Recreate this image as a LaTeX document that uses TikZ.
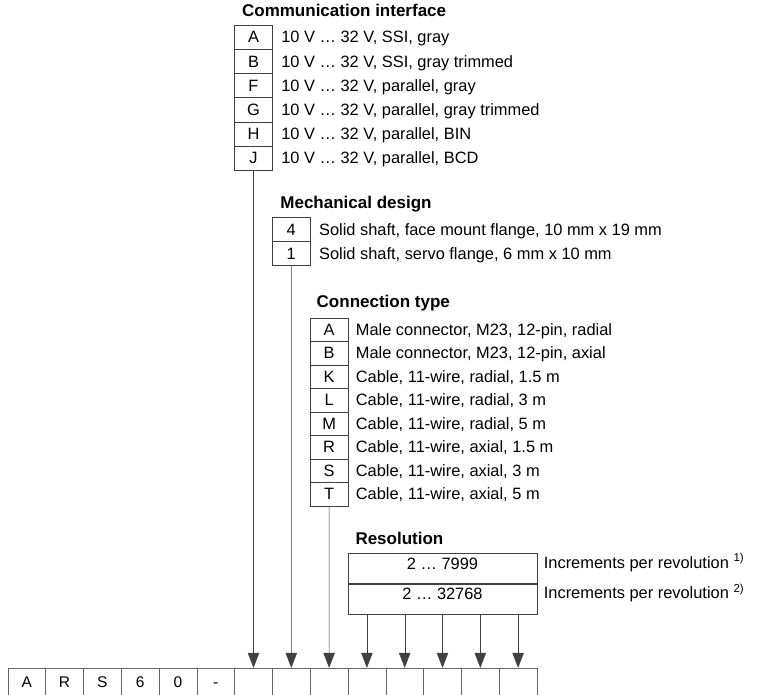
\documentclass[tikz,border=0pt]{standalone}
\usepackage{fontspec}
\setmainfont{Liberation Sans}
\usetikzlibrary{positioning,arrows.meta}
\tikzset{
    key-box/.style = {draw=black!75, thin, rectangle, minimum width=37.8pt, minimum height=24.2pt, inner sep=0pt, text height=11.8pt, text depth=0pt, font=\fontsize{16.4}{19}\selectfont},
    key-text/.style = {anchor=west, inner sep=0pt, text height=11.8pt, text depth=0pt, font=\fontsize{16.4}{19}\selectfont},
    group-title/.style = {anchor=base west, inner sep=0pt, font=\bfseries\fontsize{17}{20}\selectfont},
    range-box/.style = {draw=black!75, thin, rectangle, minimum width=189pt, minimum height=30pt, inner sep=0pt, text height=11.8pt, text depth=10pt, font=\fontsize{16.4}{19}\selectfont},
    type-cell/.style = {draw=black!60, thin, rectangle, minimum width=37.8pt, minimum height=28pt, inner sep=0pt, text height=11pt, text depth=0pt, font=\fontsize{15.5}{18}\selectfont},
    feed/.style = {draw=black!75, thin, -{Triangle[length=15pt, width=11.5pt]}},
}

\begin{document}
\begin{tikzpicture}[x=1pt, y=-1pt]
\clip (0,0) rectangle (766,695);

% type code
\foreach \c [count=\n from 0] in {A,R,S,6,0,-,{},{},{},{},{},{},{},{}}
    \node[type-cell] (tc-\n) at ({7.8+37.8*(\n+0.5)},682) {\c};

% communication interface
\foreach \k/\txt [count=\i] in {A/{10 V … 32 V, SSI, gray}, B/{10 V … 32 V, SSI, gray trimmed}, F/{10 V … 32 V, parallel, gray}, G/{10 V … 32 V, parallel, gray trimmed}, H/{10 V … 32 V, parallel, BIN}, J/{10 V … 32 V, parallel, BCD}} {
    \node[key-box] (ci-\i) at (253.5,{25+24.2*(\i-0.5)}) {\k};
    \node[key-text, right=8.5pt of ci-\i] (ci-\i-text) {\txt};
}
\node[group-title] (ci-title) at ([shift={(7.5pt,8pt)}]ci-1.north west) {Communication interface};

% mechanical design
\foreach \k/\txt [count=\i] in {4/{Solid shaft, face mount flange, 10 mm x 19 mm}, 1/{Solid shaft, servo flange, 6 mm x 10 mm}} {
    \node[key-box] (md-\i) at (291.3,{217.3+24.2*(\i-0.5)}) {\k};
    \node[key-text, right=8.5pt of md-\i] (md-\i-text) {\txt};
}
\node[group-title] (md-title) at ([shift={(8pt,9pt)}]md-1.north west) {Mechanical design};

% connection type
\foreach \k/\txt [count=\i] in {A/{Male connector, M23, 12-pin, radial}, B/{Male connector, M23, 12-pin, axial}, K/{Cable, 11-wire, radial, 1.5 m}, L/{Cable, 11-wire, radial, 3 m}, M/{Cable, 11-wire, radial, 5 m}, R/{Cable, 11-wire, axial, 1.5 m}, S/{Cable, 11-wire, axial, 3 m}, T/{Cable, 11-wire, axial, 5 m}} {
    \node[key-box, minimum height=23.5pt] (ct-\i) at (329.1,{317.7+23.5*(\i-0.5)}) {\k};
    \node[key-text, right=7.5pt of ct-\i] (ct-\i-text) {\txt};
}
\node[group-title] (ct-title) at ([shift={(6.5pt,10pt)}]ct-1.north west) {Connection type};

% resolution
\node[range-box] (rs-1) at (442.5,568.3) {2 … 7999};
\node[range-box, below=0pt of rs-1] (rs-2) {2 … 32768};
\node[key-text, text depth=12pt, right=6.5pt of rs-1] (rs-1-text) {Increments per revolution \textsuperscript{1)}};
\node[key-text, text depth=12pt, right=6.5pt of rs-2] (rs-2-text) {Increments per revolution \textsuperscript{2)}};
\node[group-title] (rs-title) at ([shift={(7.5pt,9pt)}]rs-1.north west) {Resolution};

% arrows into the type code
\draw[feed] (ci-6.south) -- (tc-6.north);
\draw[feed] (md-2.south) -- (tc-7.north);
\draw[feed] (ct-8.south) -- (tc-8.north);
\foreach \n in {9,...,13}
    \draw[feed] (rs-2.south -| tc-\n.north) -- (tc-\n.north);
\end{tikzpicture}
\end{document}
